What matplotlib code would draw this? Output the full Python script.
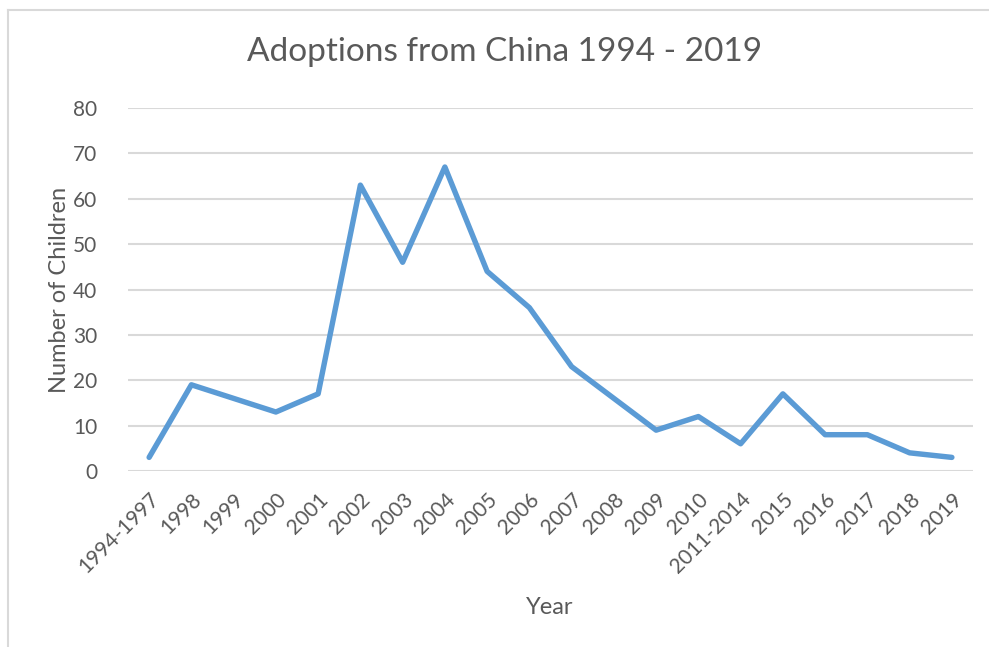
import matplotlib
matplotlib.use('Agg')
import matplotlib.pyplot as plt
from matplotlib.lines import Line2D

years = ['1994-1997', '1998', '1999', '2000', '2001', '2002', '2003', '2004',
         '2005', '2006', '2007', '2008', '2009', '2010', '2011-2014', '2015',
         '2016', '2017', '2018', '2019']
children = [3, 19, 16, 13, 17, 63, 46, 67, 44, 36, 23, 16, 9, 12, 6, 17, 8, 8, 4, 3]
yticks = [0, 10, 20, 30, 40, 50, 60, 70, 80]

plt.rcParams['font.family'] = ['Lato', 'DejaVu Sans']
txt = '#595959'
grid = '#d9d9d9'

fig = plt.figure(figsize=(9.89, 6.47), dpi=100)
ax = fig.add_axes([128/989, 1-471/647, 845/989, 363/647])

x = list(range(len(years)))
ax.plot(x, children, color='#5b9bd5', lw=3.9, solid_capstyle='round', solid_joinstyle='round', zorder=3)

ax.set_xlim(-0.5, len(years) - 0.5)
ax.set_ylim(0, 80)
ax.set_yticks(yticks)
ax.set_xticks(x)
ax.set_xticklabels(years, rotation=45, ha='right', va='top', rotation_mode='anchor')
ax.tick_params(axis='both', length=0, labelsize=15, labelcolor=txt)
ax.tick_params(axis='y', pad=22)
ax.tick_params(axis='x', pad=13)
ax.yaxis.grid(True, color=grid, lw=1.5)
ax.set_axisbelow(True)
for s in ax.spines.values():
    s.set_visible(False)

fig.text(60/989, 1-290/647, 'Number of Children', fontsize=17, color=txt, ha='center', va='center', rotation=90)
fig.text(550/989, 1-607/647, 'Year', fontsize=17, color=txt, ha='center', va='center')
fig.text(505/989, 1-52/647, 'Adoptions from China 1994 - 2019', fontsize=24, color=txt, ha='center', va='center')

# chart area border (only top/left visible in the reference crop)
fig.add_artist(Line2D([7.5/989, 7.5/989], [0, 1-9.5/647], transform=fig.transFigure, color=grid, lw=1.5))
fig.add_artist(Line2D([7.5/989, 1], [1-9.5/647, 1-9.5/647], transform=fig.transFigure, color=grid, lw=1.5))

fig.savefig('out.png', dpi=100)
